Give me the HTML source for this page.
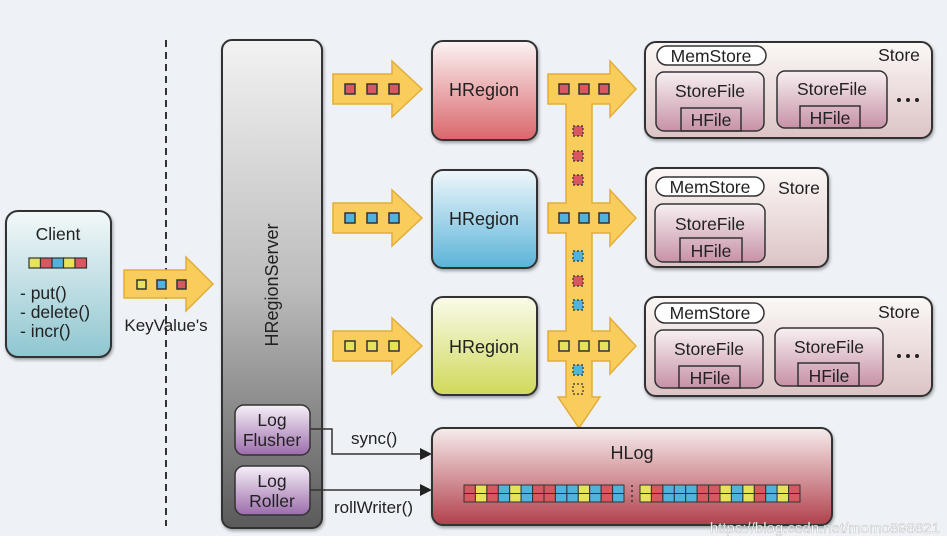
<!DOCTYPE html>
<html><head><meta charset="utf-8"><style>
html,body{margin:0;padding:0;background:#fff;}
svg{display:block;font-family:"Liberation Sans",sans-serif;}
</style></head><body>
<svg width="947" height="548" viewBox="0 0 947 548" xmlns="http://www.w3.org/2000/svg">
<defs>
<linearGradient id="cl" x1="0" y1="0" x2="0" y2="1"><stop offset="0" stop-color="#f3f8f9"/><stop offset="1" stop-color="#8fc6d0"/></linearGradient>
<linearGradient id="srv" x1="0" y1="0" x2="0" y2="1"><stop offset="0" stop-color="#f2f2f2"/><stop offset="0.5" stop-color="#bdbdbd"/><stop offset="1" stop-color="#5a5a5a"/></linearGradient>
<linearGradient id="pur" x1="0" y1="0" x2="0" y2="1"><stop offset="0" stop-color="#f6f0f8"/><stop offset="1" stop-color="#9c6cac"/></linearGradient>
<linearGradient id="red" x1="0" y1="0" x2="0" y2="1"><stop offset="0" stop-color="#fbf3f3"/><stop offset="1" stop-color="#d9666b"/></linearGradient>
<linearGradient id="blu" x1="0" y1="0" x2="0" y2="1"><stop offset="0" stop-color="#f0f7fb"/><stop offset="1" stop-color="#5ab3d8"/></linearGradient>
<linearGradient id="yel" x1="0" y1="0" x2="0" y2="1"><stop offset="0" stop-color="#fafbea"/><stop offset="1" stop-color="#cfd95a"/></linearGradient>
<linearGradient id="st" x1="0" y1="0" x2="0" y2="1"><stop offset="0" stop-color="#fbf8f6"/><stop offset="1" stop-color="#dcc3c4"/></linearGradient>
<linearGradient id="sf" x1="0" y1="0" x2="0" y2="1"><stop offset="0" stop-color="#f7f0f2"/><stop offset="1" stop-color="#c791a6"/></linearGradient>
<linearGradient id="hl" x1="0" y1="0" x2="0" y2="1"><stop offset="0" stop-color="#f6ecec"/><stop offset="1" stop-color="#b1404c"/></linearGradient>
<filter id="sh" x="-10%" y="-10%" width="130%" height="130%"><feDropShadow dx="1" dy="2" stdDeviation="1.5" flood-opacity="0.35"/></filter>
</defs>
<rect width="947" height="536" fill="#eef2f7"/>
<rect y="536" width="947" height="12" fill="#ffffff"/>

<line x1="166" y1="40" x2="166" y2="526" stroke="#333" stroke-width="2" stroke-dasharray="7,5"/>

<rect x="6" y="211" width="105" height="146" rx="12" fill="url(#cl)" stroke="#333" stroke-width="2" filter="url(#sh)"/>
<text x="58" y="240" font-size="17.5" text-anchor="middle" fill="#222">Client</text>
<g stroke="#333" stroke-width="1.2">
<rect x="29" y="258" width="11.5" height="10" fill="#e6e35a"/><rect x="40.5" y="258" width="11.5" height="10" fill="#d9575e"/><rect x="52" y="258" width="11.5" height="10" fill="#4fb3dc"/><rect x="63.5" y="258" width="11.5" height="10" fill="#e6e35a"/><rect x="75" y="258" width="11.5" height="10" fill="#d9575e"/>
</g>
<text x="20" y="299" font-size="17.5" fill="#222">- put()</text>
<text x="20" y="318" font-size="17.5" fill="#222">- delete()</text>
<text x="20" y="337" font-size="17.5" fill="#222">- incr()</text>

<path d="M124,270 H186 V257 L213,284 L186,311 V298 H124 Z" fill="#f8cd5c" stroke="#e3ad3c" stroke-width="1.5"/>
<g stroke="#333" stroke-width="1.5">
<rect x="137" y="280" width="9" height="9" fill="#e6e35a"/><rect x="157" y="280" width="9" height="9" fill="#4fb3dc"/><rect x="177" y="280" width="9" height="9" fill="#d9575e"/>
</g>
<text x="166" y="331" font-size="17" text-anchor="middle" fill="#222">KeyValue's</text>

<rect x="222" y="40" width="100" height="488" rx="10" fill="url(#srv)" stroke="#333" stroke-width="2" filter="url(#sh)"/>
<text transform="translate(278,285) rotate(-90)" font-size="18" text-anchor="middle" fill="#222">HRegionServer</text>
<rect x="235" y="405" width="75" height="50" rx="9" fill="url(#pur)" stroke="#333" stroke-width="1.5"/>
<text x="272" y="426" font-size="17.5" text-anchor="middle" fill="#222">Log</text>
<text x="272" y="446" font-size="17.5" text-anchor="middle" fill="#222">Flusher</text>
<rect x="235" y="466" width="75" height="49" rx="9" fill="url(#pur)" stroke="#333" stroke-width="1.5"/>
<text x="272" y="487" font-size="17.5" text-anchor="middle" fill="#222">Log</text>
<text x="272" y="507" font-size="17.5" text-anchor="middle" fill="#222">Roller</text>

<polyline points="310,429 332,429 332,454 424,454" fill="none" stroke="#333" stroke-width="1.5"/>
<path d="M420,448 L432,454 L420,460 Z" fill="#222"/>
<text x="351" y="444" font-size="17" fill="#222">sync()</text>
<line x1="310" y1="490" x2="424" y2="490" stroke="#333" stroke-width="1.5"/>
<path d="M420,484 L432,490 L420,496 Z" fill="#222"/>
<text x="334" y="513" font-size="17" fill="#222">rollWriter()</text>

<path d="M333,74 H392 V61 L422,89 L392,117 V104 H333 Z" fill="#f8cd5c" stroke="#e3ad3c" stroke-width="1.5"/>
<path d="M333,203 H392 V190 L422,218 L392,246 V233 H333 Z" fill="#f8cd5c" stroke="#e3ad3c" stroke-width="1.5"/>
<path d="M333,331 H392 V318 L422,346 L392,374 V361 H333 Z" fill="#f8cd5c" stroke="#e3ad3c" stroke-width="1.5"/>
<g stroke="#333" stroke-width="1.5">
<rect x="345" y="84" width="10" height="10" fill="#d9575e"/><rect x="367" y="84" width="10" height="10" fill="#d9575e"/><rect x="389" y="84" width="10" height="10" fill="#d9575e"/>
<rect x="345" y="213" width="10" height="10" fill="#4fb3dc"/><rect x="367" y="213" width="10" height="10" fill="#4fb3dc"/><rect x="389" y="213" width="10" height="10" fill="#4fb3dc"/>
<rect x="345" y="341" width="10" height="10" fill="#e6e35a"/><rect x="367" y="341" width="10" height="10" fill="#e6e35a"/><rect x="389" y="341" width="10" height="10" fill="#e6e35a"/>
</g>

<rect x="432" y="41" width="105" height="99" rx="11" fill="url(#red)" stroke="#333" stroke-width="2" filter="url(#sh)"/>
<text x="484" y="96" font-size="18" text-anchor="middle" fill="#222">HRegion</text>
<rect x="432" y="170" width="105" height="98" rx="11" fill="url(#blu)" stroke="#333" stroke-width="2" filter="url(#sh)"/>
<text x="484" y="225" font-size="18" text-anchor="middle" fill="#222">HRegion</text>
<rect x="432" y="297" width="105" height="98" rx="11" fill="url(#yel)" stroke="#333" stroke-width="2" filter="url(#sh)"/>
<text x="484" y="353" font-size="18" text-anchor="middle" fill="#222">HRegion</text>

<path d="M566,74 H548 V104 H566 V203 H548 V233 H566 V331 H548 V361 H566 V397 H558 L579,428 L600,397 H592 V361 H610 V374 L636,346 L610,318 V331 H592 V233 H610 V246 L636,218 L610,190 V203 H592 V104 H610 V117 L636,89 L610,61 V74 Z" fill="#f8cd5c" stroke="#e3ad3c" stroke-width="1.5"/>
<g stroke="#333" stroke-width="1.5">
<rect x="559" y="84" width="10" height="10" fill="#d9575e"/><rect x="579" y="84" width="10" height="10" fill="#d9575e"/><rect x="599" y="84" width="10" height="10" fill="#d9575e"/>
<rect x="559" y="213" width="10" height="10" fill="#4fb3dc"/><rect x="579" y="213" width="10" height="10" fill="#4fb3dc"/><rect x="599" y="213" width="10" height="10" fill="#4fb3dc"/>
<rect x="559" y="341" width="10" height="10" fill="#e6e35a"/><rect x="579" y="341" width="10" height="10" fill="#e6e35a"/><rect x="599" y="341" width="10" height="10" fill="#e6e35a"/>
</g>
<g stroke="#333" stroke-width="1.2" stroke-dasharray="2,2">
<rect x="573" y="126" width="10" height="10" fill="#d9575e"/><rect x="573" y="151" width="10" height="10" fill="#d9575e"/><rect x="573" y="175" width="10" height="10" fill="#d9575e"/>
<rect x="573" y="251" width="10" height="10" fill="#4fb3dc"/><rect x="573" y="276" width="10" height="10" fill="#d9575e"/><rect x="573" y="300" width="10" height="10" fill="#4fb3dc"/>
<rect x="573" y="365" width="10" height="10" fill="#4fb3dc"/><rect x="573" y="384" width="10" height="10" fill="none"/>
</g>

<g stroke="#333">
<rect x="645" y="42" width="287" height="96" rx="11" fill="url(#st)" stroke-width="2" filter="url(#sh)"/>
<rect x="657" y="46" width="109" height="19" rx="9.5" fill="#fff" stroke-width="1.5"/>
<rect x="656" y="72" width="108" height="59" rx="8" fill="url(#sf)" stroke-width="1.5"/>
<rect x="681" y="108" width="60" height="23" fill="none" stroke-width="1.5"/>
<rect x="777" y="71" width="110" height="57" rx="8" fill="url(#sf)" stroke-width="1.5"/>
<rect x="800" y="106" width="60" height="22" fill="none" stroke-width="1.5"/>

<rect x="646" y="168" width="182" height="99" rx="11" fill="url(#st)" stroke-width="2" filter="url(#sh)"/>
<rect x="656" y="177" width="108" height="19" rx="9.5" fill="#fff" stroke-width="1.5"/>
<rect x="655" y="204" width="110" height="58" rx="8" fill="url(#sf)" stroke-width="1.5"/>
<rect x="680" y="238" width="62" height="24" fill="none" stroke-width="1.5"/>

<rect x="645" y="297" width="287" height="99" rx="11" fill="url(#st)" stroke-width="2" filter="url(#sh)"/>
<rect x="655" y="303" width="109" height="20" rx="10" fill="#fff" stroke-width="1.5"/>
<rect x="655" y="330" width="108" height="58" rx="8" fill="url(#sf)" stroke-width="1.5"/>
<rect x="679" y="366" width="61" height="22" fill="none" stroke-width="1.5"/>
<rect x="775" y="328" width="108" height="58" rx="8" fill="url(#sf)" stroke-width="1.5"/>
<rect x="798" y="363" width="61" height="23" fill="none" stroke-width="1.5"/>
</g>
<g font-size="17.5" fill="#222" text-anchor="middle">
<text x="711" y="62">MemStore</text><text x="899" y="61">Store</text>
<text x="710" y="97">StoreFile</text><text x="711" y="126">HFile</text>
<text x="832" y="95">StoreFile</text><text x="830" y="124">HFile</text>
<text x="710" y="193">MemStore</text><text x="799" y="194">Store</text>
<text x="710" y="230">StoreFile</text><text x="711" y="257">HFile</text>
<text x="710" y="319">MemStore</text><text x="899" y="318">Store</text>
<text x="709" y="355">StoreFile</text><text x="710" y="384">HFile</text>
<text x="829" y="353">StoreFile</text><text x="829" y="382">HFile</text>
</g>
<g fill="#222"><circle cx="899" cy="100" r="2"/><circle cx="908" cy="100" r="2"/><circle cx="917" cy="100" r="2"/>
<circle cx="899" cy="356" r="2"/><circle cx="908" cy="356" r="2"/><circle cx="917" cy="356" r="2"/></g>

<rect x="432" y="428" width="400" height="97" rx="11" fill="url(#hl)" stroke="#333" stroke-width="2" filter="url(#sh)"/>
<text x="632" y="459" font-size="18" text-anchor="middle" fill="#222">HLog</text>
<g stroke="#333" stroke-width="1">
<rect x="464" y="485" width="11.4" height="17" fill="#d9575e"/><rect x="475.4" y="485" width="11.4" height="17" fill="#e6e35a"/><rect x="486.9" y="485" width="11.4" height="17" fill="#d9575e"/><rect x="498.3" y="485" width="11.4" height="17" fill="#4fb3dc"/><rect x="509.7" y="485" width="11.4" height="17" fill="#e6e35a"/><rect x="521.1" y="485" width="11.4" height="17" fill="#4fb3dc"/><rect x="532.6" y="485" width="11.4" height="17" fill="#d9575e"/><rect x="544" y="485" width="11.4" height="17" fill="#d9575e"/><rect x="555.4" y="485" width="11.4" height="17" fill="#4fb3dc"/><rect x="566.9" y="485" width="11.4" height="17" fill="#4fb3dc"/><rect x="578.3" y="485" width="11.4" height="17" fill="#e6e35a"/><rect x="589.7" y="485" width="11.4" height="17" fill="#4fb3dc"/><rect x="601.1" y="485" width="11.4" height="17" fill="#d9575e"/><rect x="612.6" y="485" width="11.4" height="17" fill="#4fb3dc"/>
<rect x="640" y="485" width="11.4" height="17" fill="#e6e35a"/><rect x="651.4" y="485" width="11.4" height="17" fill="#d9575e"/><rect x="662.9" y="485" width="11.4" height="17" fill="#4fb3dc"/><rect x="674.3" y="485" width="11.4" height="17" fill="#4fb3dc"/><rect x="685.7" y="485" width="11.4" height="17" fill="#4fb3dc"/><rect x="697.1" y="485" width="11.4" height="17" fill="#d9575e"/><rect x="708.6" y="485" width="11.4" height="17" fill="#d9575e"/><rect x="720" y="485" width="11.4" height="17" fill="#e6e35a"/><rect x="731.4" y="485" width="11.4" height="17" fill="#4fb3dc"/><rect x="742.9" y="485" width="11.4" height="17" fill="#e6e35a"/><rect x="754.3" y="485" width="11.4" height="17" fill="#d9575e"/><rect x="765.7" y="485" width="11.4" height="17" fill="#4fb3dc"/><rect x="777.1" y="485" width="11.4" height="17" fill="#e6e35a"/><rect x="788.6" y="485" width="11.4" height="17" fill="#d9575e"/>
<line x1="464" y1="493.5" x2="624" y2="493.5"/><line x1="640" y1="493.5" x2="800" y2="493.5"/>
</g>
<line x1="632" y1="485" x2="632" y2="502" stroke="#333" stroke-width="1.5" stroke-dasharray="2,3"/>

<text x="940" y="533" font-size="15" text-anchor="end" fill="#ffffff" stroke="#999" stroke-width="0.3" opacity="0.9">https://blog.csdn.net/momo898821</text>
</svg>
</body></html>
